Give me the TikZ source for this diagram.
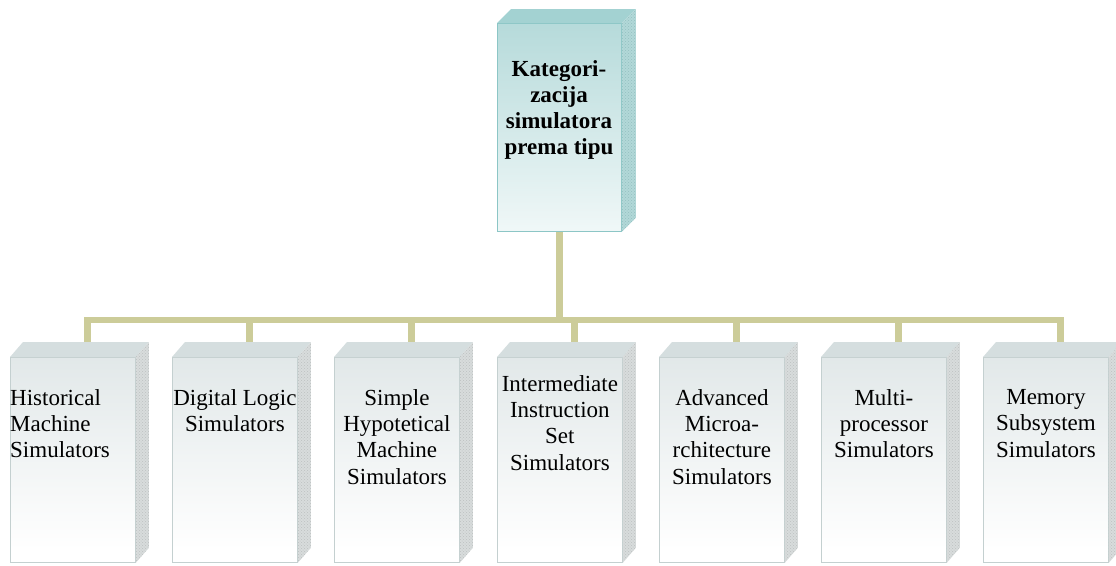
\documentclass[tikz,border=0pt]{standalone}
\usepackage{fontspec}
\setmainfont{Liberation Serif}
\usetikzlibrary{patterns}

\definecolor{rootteal}{HTML}{99CCCC}
\definecolor{roottop}{HTML}{A3D2D2}
\definecolor{rootside}{HTML}{B2D8D8}
\definecolor{rootdots}{HTML}{93C0C0}
\definecolor{rootedge}{HTML}{8CC6C6}
\definecolor{leafgray}{HTML}{D2DCDD}
\definecolor{leaftop}{HTML}{D5DEDF}
\definecolor{leafside}{HTML}{D8DCDC}
\definecolor{leafdots}{HTML}{BCC1C1}
\definecolor{leafedge}{HTML}{C4D0D0}
\definecolor{buscolor}{HTML}{CCCC99}

% white at the bottom, tinted towards the top
\pgfdeclareverticalshading{rootshade}{100bp}{color(0bp)=(white); color(12bp)=(white); color(100bp)=(rootteal)}
\pgfdeclareverticalshading{leafshade}{100bp}{color(0bp)=(white); color(28bp)=(white); color(100bp)=(leafgray)}

% top and side faces of a box whose front face is node #1
\newcommand\drawprism[5]{%
  \path[#4] (#1.north west) -- ([shift={(#2,-#3)}]#1.north west)
    -- ([shift={(#2,-#3)}]#1.north east) -- (#1.north east) -- cycle;
  \path[#5] (#1.north east) -- ([shift={(#2,-#3)}]#1.north east)
    -- ([shift={(#2,-#3)}]#1.south east) -- (#1.south east) -- cycle;
}

\begin{document}
\begin{tikzpicture}[x=1pt,y=-1pt,
  rootface/.style={draw=rootedge, line width=0.8pt, shading=rootshade,
    minimum width=124pt, minimum height=208pt, inner sep=0pt, anchor=north west},
  leafface/.style={draw=leafedge, line width=0.8pt, shading=leafshade,
    minimum width=125pt, minimum height=205pt, inner sep=0pt, anchor=north west},
  roottopface/.style={fill=roottop},
  rootsideface/.style={fill=rootside, postaction={pattern=crosshatch dots, pattern color=rootdots}},
  leaftopface/.style={fill=leaftop},
  leafsideface/.style={fill=leafside, postaction={pattern=crosshatch dots, pattern color=leafdots}},
  label/.style={font=\fontsize{23}{26.4}\selectfont, align=center, inner sep=0pt, anchor=north},
  conn/.style={draw=buscolor, line width=6.5pt},
]
\useasboundingbox (0,0) rectangle (1116,565);
\clip (0,0) rectangle (1116,565);

% root box
\node[rootface] (root) at (497,23) {};
\drawprism{root}{14}{14}{roottopface}{rootsideface}
\node[label, font=\fontsize{23}{26}\selectfont\bfseries] (roottext) at (559,60)
  {Kategori-\\zacija\\simulatora\\prema tipu};

% category boxes
\foreach \i/\L in {1/10,2/172,3/334,4/497,5/659,6/821,7/983}{
  \node[leafface] (leaf\i) at (\L,357) {};
  \drawprism{leaf\i}{13}{15}{leaftopface}{leafsideface}
}

\node[label, align=left, anchor=north west] (t1) at (10,389)
  {Historical\\Machine\\Simulators};
\node[label] (t2) at (leaf2.north |- 0,389) {Digital Logic\\Simulators};
\node[label] (t3) at (leaf3.north |- 0,389) {Simple\\Hypotetical\\Machine\\Simulators};
\node[label] (t4) at (leaf4.north |- 0,375) {Intermediate\\Instruction\\Set\\Simulators};
\node[label] (t5) at (leaf5.north |- 0,389) {Advanced\\Microa-\\rchitecture\\Simulators};
\node[label] (t6) at (leaf6.north |- 0,389) {Multi-\\processor\\Simulators};
\node[label] (t7) at (leaf7.north |- 0,389) {Memory\\Subsystem\\Simulators};

% connectors
\draw[conn] (root.south) -- ++(0,88) coordinate (hub);
\foreach \i in {1,...,7}{
  \draw[conn] (hub) -| ([shift={(14.5,-15)}]leaf\i.north);
}
\end{tikzpicture}
\end{document}
